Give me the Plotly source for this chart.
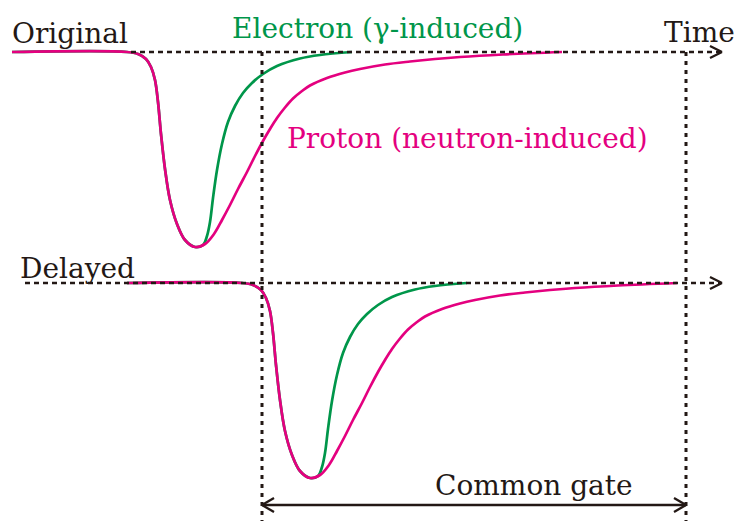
import plotly.graph_objects as go

# Sampled pulse shapes: time (arb. units) and amplitude below the baseline
proton_t = [12, 127, 138, 146, 151, 155, 158, 161, 165, 170, 177, 185, 195, 205,
            214, 222, 230, 238, 247, 255, 263, 270, 277, 285, 293, 302, 310, 327,
            345, 360, 385, 410, 435, 460, 503, 562]
proton_v = [0, 0, -2, -7, -15, -28, -50, -82, -117, -148, -172, -188, -195, -192,
            -182, -168, -153, -137, -120, -104, -89, -77, -66, -55.5, -46.5, -39,
            -33.5, -26, -20.5, -17, -12.5, -9.5, -7, -5, -2.5, 0]

electron_t = [12, 127, 138, 146, 151, 155, 158, 161, 165, 170, 177, 185, 195, 203,
              207, 210, 213, 217, 222, 228, 235, 243, 252, 263, 277, 300, 320, 352]
electron_v = [0, 0, -2, -7, -15, -28, -50, -82, -117, -148, -172, -188, -195, -193,
              -184, -170, -146, -118, -92, -70, -54, -41, -31, -22, -14, -6.5, -3, 0]

delay = 115                  # shift applied to the delayed copy
gate_start, gate_end = 262, 686

PINK = "#E4007F"
GREEN = "#00964A"
INK = "#231815"
FONT = "DejaVu Serif"
FSIZE = 28

base_orig, base_delay = 52, 283
axis_end = 722

fig = go.Figure()


def pulse(t, v, base, shift, color):
    fig.add_trace(go.Scatter(
        x=[ti + shift for ti in t], y=[base - vi for vi in v],
        mode="lines",
        line=dict(color=color, width=2.7, shape="spline", smoothing=1.0, simplify=False),
        hoverinfo="skip", showlegend=False))


# original channel
pulse(electron_t, electron_v, base_orig, 0, GREEN)
pulse(proton_t, proton_v, base_orig, 0, PINK)
# delayed channel
pulse(electron_t, electron_v, base_delay, delay, GREEN)
pulse(proton_t, proton_v, base_delay, delay, PINK)

shapes = []


def seg(x0, y0, x1, y1, dash=None, width=2.2):
    shapes.append(dict(type="line", xref="x", yref="y", x0=x0, y0=y0, x1=x1, y1=y1,
                       line=dict(color=INK, width=width, dash=dash), layer="above"))


# time axes (dashed with open arrowheads)
seg(131, base_orig, axis_end - 2, base_orig, dash="5px,4px", width=2.5)
seg(25, base_delay, axis_end - 2, base_delay, dash="5px,4px", width=2.5)
for b in (base_orig, base_delay):
    seg(axis_end - 12, b - 6, axis_end, b, width=2.3)
    seg(axis_end - 12, b + 6, axis_end, b, width=2.3)

# gate boundaries (dotted verticals)
seg(gate_start, base_orig, gate_start, 521, dash="4px,5px", width=3)
seg(gate_end, base_orig, gate_end, 521, dash="4px,5px", width=3)

# common gate double arrow
gy = 505
seg(gate_start, gy, gate_end, gy, width=2.3)
seg(gate_start + 12, gy - 7, gate_start, gy, width=2.3)
seg(gate_start + 12, gy + 7, gate_start, gy, width=2.3)
seg(gate_end - 12, gy - 7, gate_end, gy, width=2.3)
seg(gate_end - 12, gy + 7, gate_end, gy, width=2.3)

annotations = []


def label(text, x, baseline, color=INK):
    annotations.append(dict(text=text, x=x, y=baseline - 0.345 * FSIZE, xref="x", yref="y",
                            xanchor="left", yanchor="middle", showarrow=False,
                            font=dict(family=FONT, size=FSIZE, color=color)))


label("Original", 10, 43)
label("Electron (γ-induced)", 230, 38, GREEN)
label("Time", 662, 42)
label("Proton (neutron-induced)", 285, 148, PINK)
label("Delayed", 18, 278)
label("Common gate", 433, 495)

fig.update_layout(
    width=737, height=521, autosize=False,
    margin=dict(l=0, r=0, t=0, b=0),
    paper_bgcolor="white", plot_bgcolor="white",
    xaxis=dict(range=[0, 737], visible=False, fixedrange=True),
    yaxis=dict(range=[521, 0], visible=False, fixedrange=True),
    shapes=shapes, annotations=annotations,
)

fig.write_html("out.html")
